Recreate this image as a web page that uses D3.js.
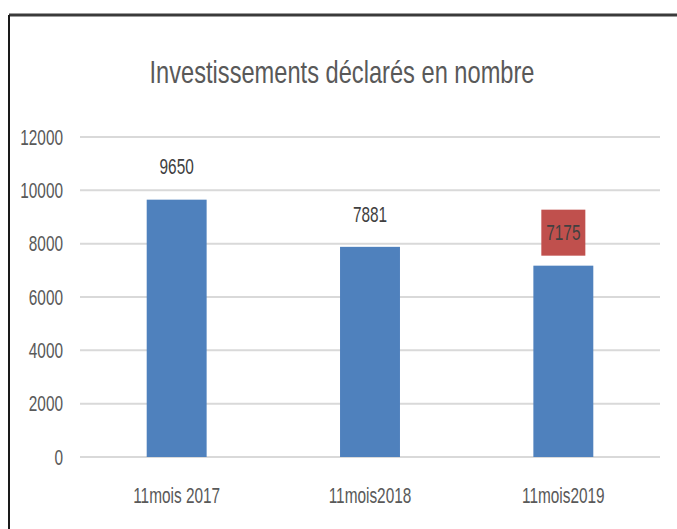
<!DOCTYPE html>
<html>
<head>
<meta charset="utf-8">
<script src="https://cdn.jsdelivr.net/npm/d3@7"></script>
<style>
  body { margin: 0; background: #fff; }
  text { font-family: "Liberation Sans Narrow", "Liberation Sans", sans-serif; }
</style>
</head>
<body>
<div id="chart"></div>
<script>
var categories = ["11mois 2017", "11mois2018", "11mois2019"];
var values = [9650, 7881, 7175];
var yTicks = [0, 2000, 4000, 6000, 8000, 10000, 12000];
var title = "Investissements déclarés en nombre";

var width = 677, height = 529;
var sx = 0.7; // the screenshot's text is squeezed horizontally

var svg = d3.select("#chart").append("svg")
  .attr("width", width)
  .attr("height", height);

// frame (cut at right and bottom like the screenshot)
svg.append("line")
  .attr("x1", 9).attr("y1", 15).attr("x2", width).attr("y2", 15)
  .attr("stroke", "#3a3a3a").attr("stroke-width", 3);
svg.append("line")
  .attr("x1", 9).attr("y1", 15).attr("x2", 9).attr("y2", height)
  .attr("stroke", "#1a1a1a").attr("stroke-width", 2);

var x = d3.scaleBand()
  .domain(categories)
  .range([80, 660])
  .paddingInner(0.69)
  .paddingOuter(0.345);

var y = d3.scaleLinear()
  .domain([0, 12000])
  .range([457, 137]);

function squeeze(px, py){
  return "translate(" + px + "," + py + ") scale(" + sx + ",1)";
}

// title
svg.append("text")
  .attr("x", 342)
  .attr("y", 83)
  .attr("text-anchor", "middle")
  .attr("textLength", 385)
  .attr("lengthAdjust", "spacingAndGlyphs")
  .style("font-size", "32px")
  .attr("fill", "#595959")
  .text(title);

// gridlines
svg.selectAll(".grid")
  .data(yTicks)
  .enter()
  .append("line")
  .attr("class", "grid")
  .attr("x1", 80)
  .attr("x2", 660)
  .attr("y1", function(d){ return y(d); })
  .attr("y2", function(d){ return y(d); })
  .attr("stroke", "#d9d9d9")
  .attr("stroke-width", 2);

// y tick labels
svg.selectAll(".ytick")
  .data(yTicks)
  .enter()
  .append("text")
  .attr("class", "ytick")
  .attr("transform", function(d){ return squeeze(63, y(d)); })
  .attr("dy", "0.35em")
  .attr("text-anchor", "end")
  .style("font-size", "22px")
  .attr("fill", "#595959")
  .text(function(d){ return d; });

// bars
svg.selectAll(".bar")
  .data(values)
  .enter()
  .append("rect")
  .attr("class", "bar")
  .attr("x", function(d, i){ return x(categories[i]); })
  .attr("y", function(d){ return y(d); })
  .attr("width", x.bandwidth())
  .attr("height", function(d){ return y(0) - y(d); })
  .attr("fill", "#4F81BD");

// highlight box behind last label
var last = values.length - 1;
svg.append("rect")
  .attr("x", x(categories[last]) + x.bandwidth() / 2 - 22)
  .attr("y", y(values[last]) - 56)
  .attr("width", 44)
  .attr("height", 46)
  .attr("fill", "#C0504D");

// value labels
svg.selectAll(".val")
  .data(values)
  .enter()
  .append("text")
  .attr("class", "val")
  .attr("transform", function(d, i){
    return squeeze(x(categories[i]) + x.bandwidth() / 2, y(d) - 33);
  })
  .attr("dy", "0.35em")
  .attr("text-anchor", "middle")
  .style("font-size", "22px")
  .attr("fill", "#404040")
  .text(function(d){ return d; });

// x labels
svg.selectAll(".xlab")
  .data(categories)
  .enter()
  .append("text")
  .attr("class", "xlab")
  .attr("transform", function(d){ return squeeze(x(d) + x.bandwidth() / 2, 495); })
  .attr("dy", "0.35em")
  .attr("text-anchor", "middle")
  .style("font-size", "22px")
  .attr("fill", "#595959")
  .text(function(d){ return d; });
</script>
</body>
</html>
